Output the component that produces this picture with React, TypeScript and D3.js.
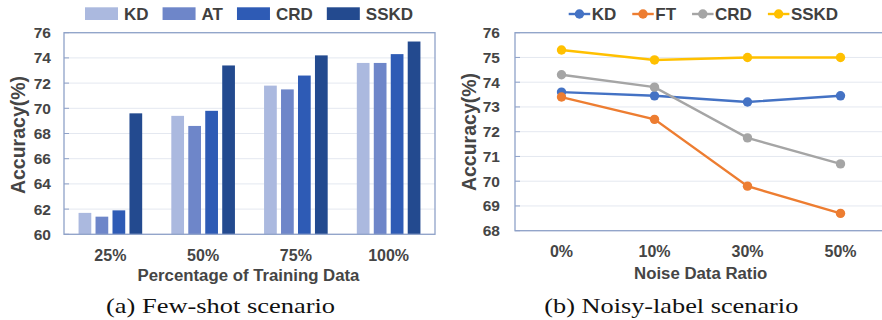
import * as d3 from "d3";
import { useEffect, useRef } from "react";

// (a) few-shot
const fewShotCategories = ["25%", "50%", "75%", "100%"];
const fewShotSeries = ["KD", "AT", "CRD", "SSKD"];
const fewShotKD = [61.7, 69.4, 71.8, 73.6];
const fewShotAT = [61.4, 68.6, 71.5, 73.6];
const fewShotCRD = [61.9, 69.8, 72.6, 74.3];
const fewShotSSKD = [69.6, 73.4, 74.2, 75.3];
const fewShotTicks = [60, 62, 64, 66, 68, 70, 72, 74, 76];

// (b) noisy-label
const noiseCategories = ["0%", "10%", "30%", "50%"];
const noiseSeries = ["KD", "FT", "CRD", "SSKD"];
const noiseKD = [73.6, 73.45, 73.2, 73.45];
const noiseFT = [73.4, 72.5, 69.8, 68.7];
const noiseCRD = [74.3, 73.8, 71.75, 70.7];
const noiseSSKD = [75.3, 74.9, 75.0, 75.0];
const noiseTicks = [68, 69, 70, 71, 72, 73, 74, 75, 76];

const barColors = ["#abb9df", "#6e86c9", "#2e5bb5", "#234a8f"];
const lineColors = ["#4472c4", "#ed7d31", "#a5a5a5", "#ffc000"];

const axisColor = "#8fa2c8";
const gridColor = "#e4e8f0";
const textColor = "#454545";
const sans = "'Liberation Sans', Arial, sans-serif";
const serif = "'Liberation Serif', 'Times New Roman', serif";

function Chart() {
  const ref = useRef<SVGSVGElement>(null);

  useEffect(() => {
    const svg = d3.select(ref.current);
    svg.selectAll("*").remove();

    // ---------- left: grouped bars ----------
    const a = { left: 64, right: 435, top: 32.7, bottom: 234.3 };
    const fewShotValues = [fewShotKD, fewShotAT, fewShotCRD, fewShotSSKD];

    const x0 = d3
      .scaleBand()
      .domain(fewShotCategories)
      .range([a.left, a.right])
      .paddingInner(0.314)
      .paddingOuter(0.157);
    const x1 = d3
      .scaleBand()
      .domain(fewShotSeries)
      .range([0, x0.bandwidth()])
      .paddingInner(0.25);
    const yA = d3.scaleLinear().domain([60, 76]).range([a.bottom, a.top]);

    const gA = svg.append("g");
    gA.selectAll("line.grid")
      .data(fewShotTicks)
      .join("line")
      .attr("x1", a.left)
      .attr("x2", a.right)
      .attr("y1", (d) => yA(d))
      .attr("y2", (d) => yA(d))
      .attr("stroke", gridColor);
    gA.selectAll("line.tick")
      .data(fewShotTicks)
      .join("line")
      .attr("x1", a.left)
      .attr("x2", a.left + 5)
      .attr("y1", (d) => yA(d))
      .attr("y2", (d) => yA(d))
      .attr("stroke", axisColor);

    fewShotSeries.forEach((s, i) => {
      gA.append("g")
        .selectAll("rect")
        .data(fewShotValues[i])
        .join("rect")
        .attr("x", (_, j) => (x0(fewShotCategories[j]) ?? 0) + (x1(s) ?? 0))
        .attr("width", x1.bandwidth())
        .attr("y", (d) => yA(d))
        .attr("height", (d) => yA(60) - yA(d))
        .attr("fill", barColors[i]);
    });

    gA.append("rect")
      .attr("x", a.left)
      .attr("y", a.top)
      .attr("width", a.right - a.left)
      .attr("height", a.bottom - a.top)
      .attr("fill", "none")
      .attr("stroke", axisColor)
      .attr("stroke-width", 1.3);

    gA.selectAll("text.ytick")
      .data(fewShotTicks)
      .join("text")
      .attr("x", 51)
      .attr("y", (d) => yA(d) + 5.5)
      .attr("text-anchor", "end")
      .attr("font-family", sans)
      .attr("font-weight", "bold")
      .attr("font-size", 15.5)
      .attr("fill", textColor)
      .text((d) => d);

    gA.selectAll("text.xtick")
      .data(fewShotCategories)
      .join("text")
      .attr("x", (d) => (x0(d) ?? 0) + x0.bandwidth() / 2)
      .attr("y", 260.7)
      .attr("text-anchor", "middle")
      .attr("font-family", sans)
      .attr("font-weight", "bold")
      .attr("font-size", 16)
      .attr("fill", textColor)
      .text((d) => d);

    gA.append("text")
      .attr("x", 248.5)
      .attr("y", 280.5)
      .attr("text-anchor", "middle")
      .attr("font-family", sans)
      .attr("font-weight", "bold")
      .attr("font-size", 16.8)
      .attr("fill", textColor)
      .text("Percentage of Training Data");

    gA.append("text")
      .attr("transform", "translate(25,135) rotate(-90)")
      .attr("text-anchor", "middle")
      .attr("font-family", sans)
      .attr("font-weight", "bold")
      .attr("font-size", 19.5)
      .attr("fill", textColor)
      .text("Accuracy(%)");

    // legend (a)
    let lx = 85;
    fewShotSeries.forEach((s, i) => {
      gA.append("rect")
        .attr("x", lx)
        .attr("y", 7.3)
        .attr("width", 33)
        .attr("height", 12.7)
        .attr("fill", barColors[i]);
      const t = gA
        .append("text")
        .attr("x", lx + 39)
        .attr("y", 19.5)
        .attr("font-family", sans)
        .attr("font-weight", "bold")
        .attr("font-size", 17)
        .attr("fill", "#404040")
        .text(s);
      lx += 39 + (t.node() as SVGTextElement).getComputedTextLength() + 14;
    });

    gA.append("text")
      .attr("x", 220.5)
      .attr("y", 313)
      .attr("text-anchor", "middle")
      .attr("font-family", serif)
      .attr("font-size", 21)
      .attr("fill", "#111")
      .attr("textLength", 229)
      .attr("lengthAdjust", "spacingAndGlyphs")
      .text("(a) Few-shot scenario");

    // ---------- right: lines ----------
    const b = { left: 515, right: 887, top: 32.7, bottom: 230.7 };
    const noiseValues = [noiseKD, noiseFT, noiseCRD, noiseSSKD];

    const xB = d3.scaleBand().domain(noiseCategories).range([b.left, b.right]);
    const cx = (d: string) => (xB(d) ?? 0) + xB.bandwidth() / 2;
    const yB = d3.scaleLinear().domain([68, 76]).range([b.bottom, b.top]);

    const gB = svg.append("g");
    gB.selectAll("line.grid")
      .data(noiseTicks)
      .join("line")
      .attr("x1", b.left)
      .attr("x2", b.right)
      .attr("y1", (d) => yB(d))
      .attr("y2", (d) => yB(d))
      .attr("stroke", gridColor);
    gB.selectAll("line.tick")
      .data(noiseTicks)
      .join("line")
      .attr("x1", b.left)
      .attr("x2", b.left + 5)
      .attr("y1", (d) => yB(d))
      .attr("y2", (d) => yB(d))
      .attr("stroke", axisColor);
    gB.append("rect")
      .attr("x", b.left)
      .attr("y", b.top)
      .attr("width", b.right - b.left)
      .attr("height", b.bottom - b.top)
      .attr("fill", "none")
      .attr("stroke", axisColor)
      .attr("stroke-width", 1.3);

    const line = d3
      .line<number>()
      .x((_, j) => cx(noiseCategories[j]))
      .y((d) => yB(d));

    noiseSeries.forEach((_, i) => {
      gB.append("path")
        .datum(noiseValues[i])
        .attr("fill", "none")
        .attr("stroke", lineColors[i])
        .attr("stroke-width", 2.4)
        .attr("d", line);
      gB.append("g")
        .selectAll("circle")
        .data(noiseValues[i])
        .join("circle")
        .attr("cx", (_, j) => cx(noiseCategories[j]))
        .attr("cy", (d) => yB(d))
        .attr("r", 4.7)
        .attr("fill", lineColors[i]);
    });

    gB.selectAll("text.ytick")
      .data(noiseTicks)
      .join("text")
      .attr("x", 500)
      .attr("y", (d) => yB(d) + 5.5)
      .attr("text-anchor", "end")
      .attr("font-family", sans)
      .attr("font-weight", "bold")
      .attr("font-size", 15.5)
      .attr("fill", textColor)
      .text((d) => d);

    gB.selectAll("text.xtick")
      .data(noiseCategories)
      .join("text")
      .attr("x", (d) => cx(d))
      .attr("y", 257.3)
      .attr("text-anchor", "middle")
      .attr("font-family", sans)
      .attr("font-weight", "bold")
      .attr("font-size", 16)
      .attr("fill", textColor)
      .text((d) => d);

    gB.append("text")
      .attr("x", 700.7)
      .attr("y", 279.2)
      .attr("text-anchor", "middle")
      .attr("font-family", sans)
      .attr("font-weight", "bold")
      .attr("font-size", 16.8)
      .attr("fill", textColor)
      .text("Noise Data Ratio");

    gB.append("text")
      .attr("transform", "translate(476,132) rotate(-90)")
      .attr("text-anchor", "middle")
      .attr("font-family", sans)
      .attr("font-weight", "bold")
      .attr("font-size", 19.5)
      .attr("fill", textColor)
      .text("Accuracy(%)");

    // legend (b)
    let mx = 568.7;
    noiseSeries.forEach((s, i) => {
      gB.append("line")
        .attr("x1", mx)
        .attr("x2", mx + 21.5)
        .attr("y1", 14)
        .attr("y2", 14)
        .attr("stroke", lineColors[i])
        .attr("stroke-width", 2.4);
      gB.append("circle")
        .attr("cx", mx + 10.75)
        .attr("cy", 14)
        .attr("r", 4.7)
        .attr("fill", lineColors[i]);
      const t = gB
        .append("text")
        .attr("x", mx + 23)
        .attr("y", 20)
        .attr("font-family", sans)
        .attr("font-weight", "bold")
        .attr("font-size", 17)
        .attr("fill", "#404040")
        .text(s);
      mx += 23 + (t.node() as SVGTextElement).getComputedTextLength() + 16;
    });

    gB.append("text")
      .attr("x", 671.3)
      .attr("y", 313)
      .attr("text-anchor", "middle")
      .attr("font-family", serif)
      .attr("font-size", 21)
      .attr("fill", "#111")
      .attr("textLength", 254)
      .attr("lengthAdjust", "spacingAndGlyphs")
      .text("(b) Noisy-label scenario");
  }, []);

  return <svg ref={ref} width={882} height={320} style={{ display: "block" }} />;
}

export default function App() {
  return (
    <div style={{ position: "fixed", left: 0, top: 0, background: "#fff" }}>
      <Chart />
    </div>
  );
}
